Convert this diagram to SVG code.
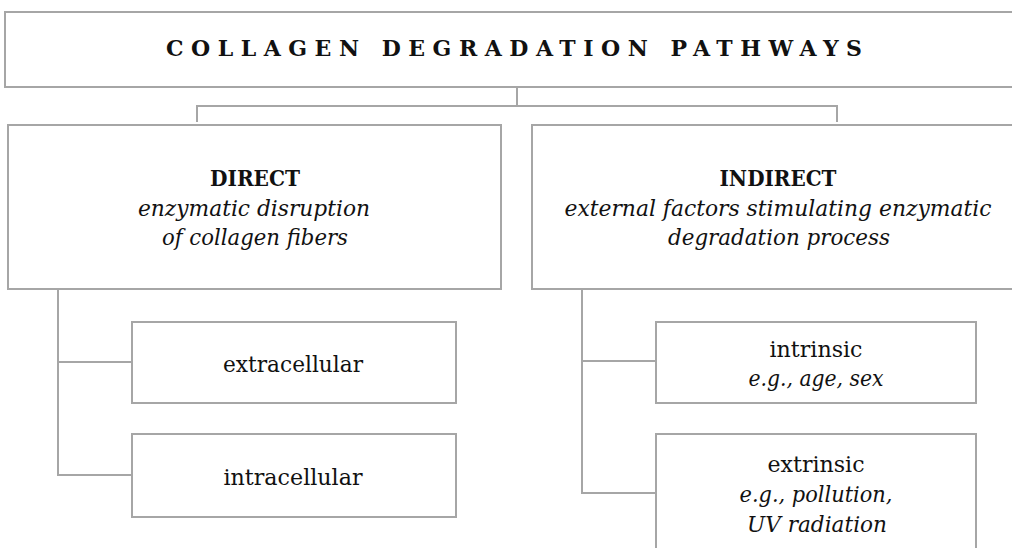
<svg xmlns="http://www.w3.org/2000/svg" width="1012" height="548" viewBox="0 0 1012 548">
<style>
.box{fill:#ffffff;stroke:#a6a6a6;stroke-width:2}
.conn{fill:none;stroke:#a6a6a6;stroke-width:2}
text{font-family:"DejaVu Serif","Liberation Serif",serif;fill:#111111;text-anchor:middle}
.title{font-size:22px;font-weight:bold}
.head{font-size:23px;font-weight:bold}
.it{font-size:22px;font-style:italic}
.reg{font-size:22px}
</style>
<rect width="1012" height="548" fill="#ffffff"/>
<g id="connectors">
<path class="conn" d="M517,87 V106 M197,122 V106 H837 V122"/>
<path class="conn" d="M58,290 V475 H132 M58,362 H132"/>
<path class="conn" d="M582,290 V493 H656 M582,361 H656"/>
</g>
<g id="title">
<rect class="box" x="5" y="12" width="1020" height="75"/>
<text class="title" x="514" y="56" textLength="696" lengthAdjust="spacing">COLLAGEN DEGRADATION PATHWAYS</text>
</g>
<g id="direct">
<rect class="box" x="8" y="125" width="493" height="164"/>
<text class="head" x="255" y="186" textLength="90" lengthAdjust="spacingAndGlyphs">DIRECT</text>
<text class="it" x="254" y="216" textLength="232" lengthAdjust="spacingAndGlyphs">enzymatic disruption</text>
<text class="it" x="255" y="245" textLength="186" lengthAdjust="spacingAndGlyphs">of collagen fibers</text>
</g>
<g id="indirect">
<rect class="box" x="532" y="125" width="492" height="164"/>
<text class="head" x="778" y="186" textLength="117" lengthAdjust="spacingAndGlyphs">INDIRECT</text>
<text class="it" x="778" y="216" textLength="427" lengthAdjust="spacingAndGlyphs">external factors stimulating enzymatic</text>
<text class="it" x="779" y="245" textLength="222" lengthAdjust="spacingAndGlyphs">degradation process</text>
</g>
<g id="extracellular">
<rect class="box" x="132" y="322" width="324" height="81"/>
<text class="reg" x="293" y="372" textLength="140" lengthAdjust="spacingAndGlyphs">extracellular</text>
</g>
<g id="intracellular">
<rect class="box" x="132" y="434" width="324" height="83"/>
<text class="reg" x="293" y="485" textLength="139" lengthAdjust="spacingAndGlyphs">intracellular</text>
</g>
<g id="intrinsic">
<rect class="box" x="656" y="322" width="320" height="81"/>
<text class="reg" x="816" y="357" textLength="93" lengthAdjust="spacingAndGlyphs">intrinsic</text>
<text class="it" x="816" y="386" textLength="135" lengthAdjust="spacingAndGlyphs">e.g., age, sex</text>
</g>
<g id="extrinsic">
<rect class="box" x="656" y="434" width="320" height="130"/>
<text class="reg" x="816" y="472" textLength="97" lengthAdjust="spacingAndGlyphs">extrinsic</text>
<text class="it" x="816" y="502" textLength="153" lengthAdjust="spacingAndGlyphs">e.g., pollution,</text>
<text class="it" x="817" y="532" textLength="140" lengthAdjust="spacingAndGlyphs">UV radiation</text>
</g>
</svg>
